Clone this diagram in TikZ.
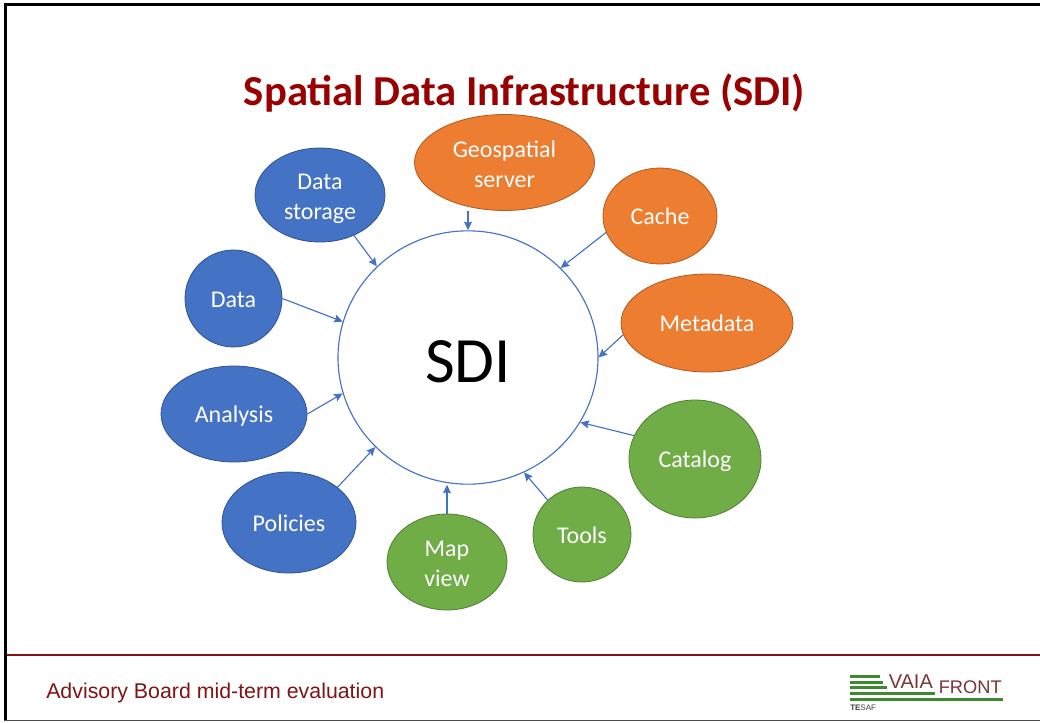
\documentclass[tikz,border=0pt]{standalone}
\usepackage{fontspec}
\setmainfont{Carlito}
\newfontfamily\arialfont{Liberation Sans}
\usetikzlibrary{shapes.geometric,arrows.meta}
\definecolor{sdiblue}{HTML}{4472C4}
\definecolor{sdibluedk}{HTML}{2F528F}
\definecolor{sdiorange}{HTML}{ED7D31}
\definecolor{sdiorangedk}{HTML}{AE5A21}
\definecolor{sdigreen}{HTML}{70AD47}
\definecolor{sdigreendk}{HTML}{507E32}
\definecolor{titlered}{HTML}{990000}
\definecolor{footred}{HTML}{7F1416}
\definecolor{logored}{HTML}{7B3535}
\definecolor{logogreen}{HTML}{3C8A2E}
\newcommand{\blobtext}[2]{\raisebox{-\dimexpr#1pt*3/4\relax}[\height][\depth]{\begin{tabular}{@{}c@{}}#2\end{tabular}}}
\tikzset{
  blob/.style 2 args={ellipse,inner sep=0pt,minimum width=#1*1.5pt,minimum height=#2*1.5pt,
    text=white,font=\fontsize{18pt}{22.5pt}\selectfont,line width=0.6pt},
  blue blob/.style={fill=sdiblue,draw=sdibluedk},
  orange blob/.style={fill=sdiorange,draw=sdiorangedk},
  green blob/.style={fill=sdigreen,draw=sdigreendk},
  link/.style={draw=sdiblue,line width=0.85pt,-{Stealth[length=6.5pt,width=6pt,inset=1pt]}},
  logobar/.style={draw=logogreen,line width=2.2pt},
}
\begin{document}
\begin{tikzpicture}[x=0.75pt,y=-0.75pt]
\useasboundingbox (0,0) rectangle (1040,722);
\draw[black,line width=2.2pt] (5.5,3) -- (5.5,720);
\draw[black,line width=2.2pt] (4,4.5) -- (1040,4.5);
\draw[black!70,line width=1pt] (4,720.3) -- (1040,720.3);
\draw[footred,line width=1.5pt] (7,654.8) -- (1040,654.8);
\node[text=titlered,font=\fontsize{32pt}{36pt}\selectfont\bfseries,inner sep=0pt] (title) at (524.5,93) {Spatial Data Infrastructure (SDI)};
\node[ellipse,inner sep=0pt,minimum width=195pt,minimum height=190pt,draw=sdiblue,fill=white,line width=0.85pt,font=\fontsize{48.5pt}{56pt}\selectfont] (sdi) at (468,357.5) {\blobtext{10}{SDI}};
\node[blob={65}{47},blue blob] (storage) at (320,195) {\blobtext{3.5}{Data\\storage}};
\node[blob={48.5}{48.5},blue blob] (data) at (233.5,298.5) {\blobtext{3}{Data}};
\node[blob={73}{48},blue blob] (analysis) at (234,414) {\blobtext{2}{Analysis}};
\node[blob={67}{50.5},blue blob] (policies) at (289,522.5) {\blobtext{3}{Policies}};
\node[blob={60}{48},green blob] (mapview) at (447,562) {\blobtext{3}{Map\\view}};
\node[blob={49}{47.5},green blob] (tools) at (582,534.5) {\blobtext{3}{Tools}};
\node[blob={66}{59},green blob] (catalog) at (695,459) {\blobtext{2}{Catalog}};
\node[blob={86}{49},orange blob] (metadata) at (707,323) {\blobtext{2}{Metadata}};
\node[blob={57}{48},orange blob] (cache) at (660,216) {\blobtext{2}{Cache}};
\node[blob={90}{48},orange blob] (geo) at (504.5,162.5) {\blobtext{3.5}{Geospatial\\server}};
\draw[link] (sdi.north |- geo.south) -- (sdi.north);
\draw[link] (cache.197.8) -- (sdi.44.2);
\draw[link] (metadata.188) -- (sdi.0);
\draw[link] (catalog.159.6) -- (sdi.330);
\draw[link] (tools.135.4) -- (sdi.296.5);
\draw[link] (mapview.north) -- (mapview.north |- sdi.south);
\draw[link] (policies.36.7) -- (sdi.224.5);
\draw[link] (analysis.east) -- (sdi.196.3);
\draw[link] (data.east) -- (sdi.164);
\draw[link] (storage.-50) -- (sdi.135.5);
\node[anchor=west,inner sep=0pt,text=footred,font=\arialfont\fontsize{16pt}{19pt}\selectfont] (footer) at (46,693) {Advisory Board mid-term evaluation};
% logo
\draw[logobar] (850,676.7) -- (880,676.7);
\draw[logobar] (850,682.3) -- (883,682.3);
\draw[logobar] (850,687.8) -- (887,687.8);
\draw[logobar] (850,693.3) -- (935,693.3);
\draw[logobar] (850,699.3) -- (1003,699.3);
\node[anchor=base west,inner sep=0pt,text=logored,font=\arialfont\fontsize{15pt}{17pt}\selectfont] (vaia) at (888.5,688) {VAIA};
\node[anchor=base west,inner sep=0pt,text=logored,font=\arialfont\fontsize{13.7pt}{15pt}\selectfont] (front) at (938.5,693) {FRONT};
\node[anchor=base west,inner sep=0pt,text=black!75,font=\arialfont\fontsize{6pt}{7pt}\selectfont] (tesaf) at (850,710.5) {\textbf{TE}SAF};
\end{tikzpicture}
\end{document}
